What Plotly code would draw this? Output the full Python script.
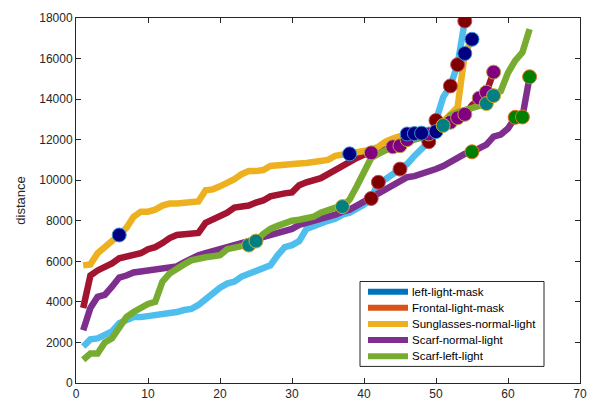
import plotly.graph_objects as go

# ---- data ----
series_names = ["left-light-mask", "Frontal-light-mask", "Sunglasses-normal-light",
                "Scarf-normal-light", "Scarf-left-light"]

left_light_mask = [1800, 2150, 2200, 2350, 2550, 2950, 3100, 3250, 3250, 3300,
                   3350, 3350, 3450, 3500, 3600, 3650, 3850, 4150, 4450, 4700,
                   4900, 5000, 5250, 5400, 5550, 5700, 5800, 6300, 6700, 6800,
                   7000, 7600, 7750, 7850, 8000, 8100, 8300, 8400, 8600, 8800,
                   9100, 9900, 10050, 10300, 10550, 10800, 11200, 11500, 11900, 12950,
                   14100, 14650, 15700, 17850]

frontal_light_mask = [3700, 5300, 5550, 5700, 5900, 6150, 6250, 6300, 6400, 6600,
                      6700, 6900, 7150, 7300, 7350, 7350, 7400, 7900, 8050, 8250,
                      8400, 8650, 8700, 8750, 8900, 9000, 9200, 9300, 9350, 9400,
                      9750, 9900, 10000, 10100, 10300, 10500, 10700, 10950, 11100, 11250,
                      11350, 11450, 11550, 11650, 11700, 12000, 12100, 12200, 12280, 12500,
                      12700, 12860, 13080, 13250, 13700, 14050, 14340, 15330]

sunglasses_normal_light = [5800, 5850, 6400, 6750, 7000, 7300, 7650, 8200, 8450, 8450,
                           8550, 8750, 8850, 8850, 8900, 8900, 8950, 9500, 9550, 9700,
                           9850, 10050, 10300, 10450, 10450, 10500, 10700, 10750, 10800, 10800,
                           10820, 10850, 10900, 10950, 11000, 11200, 11250, 11300, 11400, 11450,
                           11500, 11650, 11900, 12050, 12200, 12280, 12300, 12320, 12350, 12400,
                           12900, 13200, 13600, 16250, 16950]

scarf_normal_light = [2600, 3700, 4250, 4350, 4750, 5200, 5300, 5450, 5500, 5550,
                      5570, 5600, 5650, 5750, 5950, 6150, 6300, 6400, 6500, 6600,
                      6650, 6750, 6850, 6950, 7050, 7150, 7300, 7380, 7500, 7600,
                      7800, 7900, 7950, 8050, 8200, 8300, 8450, 8550, 8750, 8950,
                      9150, 9350, 9600, 9800, 10000, 10150, 10200, 10300, 10450, 10550,
                      10700, 10900, 11150, 11300, 11400, 11600, 11750, 12150, 12250, 12550,
                      13100, 13120, 15100]

scarf_left_light = [1150, 1450, 1450, 2000, 2200, 2800, 3250, 3500, 3700, 3900,
                    4000, 5000, 5400, 5650, 5850, 6050, 6150, 6200, 6250, 6300,
                    6600, 6700, 6750, 6800, 7000, 7350, 7600, 7750, 7900, 8000,
                    8050, 8150, 8200, 8400, 8550, 8650, 8700, 9050, 9700, 10400,
                    11100, 11300, 11500, 11650, 11750, 11900, 12000, 12100, 12250, 12450,
                    12700, 13200, 13350, 13450, 13600, 13700, 13780, 14170, 14400, 15300,
                    15900, 16300, 17450]

# x positions (1-based) of highlighted points on each curve
marks_left = [41, 42, 45, 49, 50, 52, 53, 54]
marks_frontal = [41, 44, 45, 46, 49, 52, 53, 54, 56, 57, 58]
marks_sunglasses = [6, 38, 46, 47, 48, 50, 54, 55]
marks_scarf_normal = [55, 61, 62, 63]
marks_scarf_left = [24, 25, 37, 51, 57, 58]

x_ticks = [0, 10, 20, 30, 40, 50, 60, 70]
y_ticks = [0, 2000, 4000, 6000, 8000, 10000, 12000, 14000, 16000, 18000]

# ---- styles ----
line_colors = ["#4DBEEE", "#A2142F", "#EDB120", "#7E2F8E", "#77AC30"]
legend_colors = ["#0072BD", "#D95319", "#EDB120", "#7E2F8E", "#77AC30"]
marker_fill = ["#800000", "#800080", "#000080", "#008000", "#008080"]
marker_edge = ["#C0506A", "#B8A040", "#3A8FD8", "#E07020", "#D8A830"]

all_series = [left_light_mask, frontal_light_mask, sunglasses_normal_light,
              scarf_normal_light, scarf_left_light]
all_marks = [marks_left, marks_frontal, marks_sunglasses, marks_scarf_normal, marks_scarf_left]

FONT = "Liberation Sans, Arial, Helvetica"

fig = go.Figure()

for ys, col in zip(all_series, line_colors):
    xs = list(range(1, len(ys) + 1))
    fig.add_trace(go.Scatter(x=xs, y=ys, mode="lines",
                             line=dict(color=col, width=6.5),
                             showlegend=False, hoverinfo="skip"))

for ys, mk, fc, ec in zip(all_series, all_marks, marker_fill, marker_edge):
    fig.add_trace(go.Scatter(x=mk, y=[ys[i - 1] for i in mk], mode="markers",
                             marker=dict(size=14, color=fc, line=dict(color=ec, width=1)),
                             showlegend=False, hoverinfo="skip"))

# ---- legend box (drawn in paper coordinates) ----
W, H = 600, 412
ML, MR, MT, MB = 76, 20, 11, 27
pw, ph = W - ML - MR, H - MT - MB


def px2paper_x(px):
    return (px - ML) / pw


def px2paper_y(py):
    return (H - MB - py) / ph


box_l, box_r, box_t, box_b = 360, 544, 281, 368
row0, row_step = 291.5, 16.5
fig.add_shape(type="rect", xref="paper", yref="paper",
              x0=px2paper_x(box_l), x1=px2paper_x(box_r),
              y0=px2paper_y(box_b), y1=px2paper_y(box_t),
              line=dict(color="#262626", width=1), fillcolor="white", layer="above")
for i, (name, col) in enumerate(zip(series_names, legend_colors)):
    yy = px2paper_y(row0 + i * row_step)
    fig.add_shape(type="line", xref="paper", yref="paper",
                  x0=px2paper_x(368), x1=px2paper_x(408), y0=yy, y1=yy,
                  line=dict(color=col, width=6), layer="above")
    fig.add_annotation(xref="paper", yref="paper", x=px2paper_x(410), y=yy,
                       xanchor="left", yanchor="middle", text=name, showarrow=False,
                       font=dict(family=FONT, size=11.5, color="#000000"))

axis_common = dict(showgrid=False, zeroline=False, showline=True, linecolor="#262626",
                   linewidth=1, mirror="ticks", ticks="inside", ticklen=5,
                   tickcolor="#262626", tickformat="d",
                   tickfont=dict(family=FONT, size=12, color="#262626"))

fig.update_layout(
    width=W, height=H,
    margin=dict(l=ML, r=MR, t=MT, b=MB),
    paper_bgcolor="white", plot_bgcolor="white",
    font=dict(family=FONT, size=12, color="#262626"),
    xaxis=dict(range=[0, 70], tickvals=x_ticks, **axis_common),
    yaxis=dict(range=[0, 18000], tickvals=y_ticks, **axis_common,
               title=dict(text="distance", standoff=10,
                          font=dict(family=FONT, size=13, color="#262626"))),
    showlegend=False,
)

fig.write_html("out.html")
